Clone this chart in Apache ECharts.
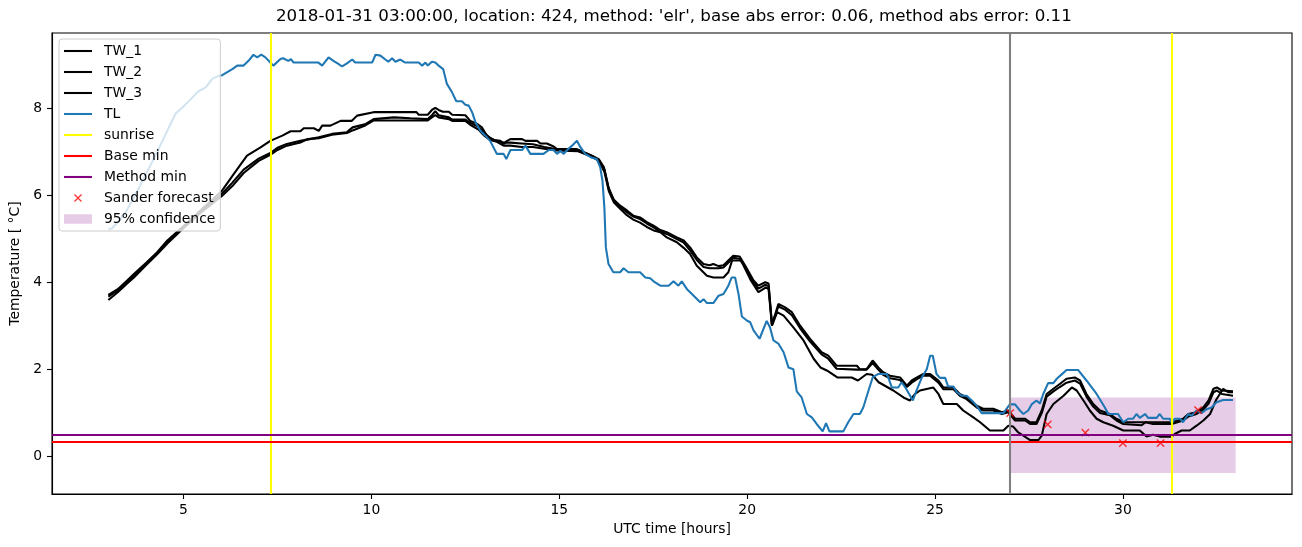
<!DOCTYPE html>
<html>
<head>
<meta charset="utf-8">
<script src="https://cdn.jsdelivr.net/npm/echarts@6/dist/echarts.min.js"></script>
<style>html,body{margin:0;padding:0;background:#fff}#c{width:1302px;height:547px}</style>
</head>
<body>
<div id="c"></div>
<script>
const titleText = "2018-01-31 03:00:00, location: 424, method: 'elr', base abs error: 0.06, method abs error: 0.11";
const xTicks = [5, 10, 15, 20, 25, 30];
const yTicks = [0, 2, 4, 6, 8];
const xRange = [1.5, 34.5];
const yRange = [-0.86, 9.74];

const tw1 = [[3.0,3.72],[3.25,3.85],[3.5,4.05],[3.68,4.2],[4.0,4.45],[4.3,4.7],[4.57,4.97],[5.01,5.31],[5.45,5.66],[6.03,6.12],[6.34,6.5],[6.69,6.92],[7.05,7.11],[7.31,7.26],[7.63,7.38],[7.85,7.48],[8.11,7.48],[8.2,7.55],[8.47,7.55],[8.6,7.49],[8.69,7.61],[8.91,7.61],[9.18,7.72],[9.48,7.72],[9.62,7.84],[10.06,7.92],[11.2,7.92],[11.26,7.86],[11.5,7.86],[11.61,7.97],[11.7,8.02],[11.79,7.97],[11.9,7.93],[12.06,7.93],[12.15,7.86],[12.5,7.85],[12.63,7.72],[12.8,7.66],[12.94,7.57],[13.07,7.38],[13.25,7.28],[13.43,7.26],[13.52,7.19],[13.61,7.26],[13.7,7.3],[14.01,7.3],[14.1,7.26],[14.41,7.26],[14.5,7.2],[14.67,7.2],[14.85,7.13],[14.94,7.07],[15.47,7.07],[15.65,7.0],[15.87,6.92],[16.05,6.84],[16.19,6.65],[16.31,6.19],[16.44,5.92],[16.62,5.77],[16.8,5.66],[16.97,5.54],[17.15,5.5],[17.33,5.39],[17.51,5.31],[17.69,5.21],[17.86,5.16],[18.13,5.04],[18.31,4.97],[18.48,4.81],[18.66,4.58],[18.84,4.43],[19.0,4.4],[19.1,4.43],[19.24,4.38],[19.37,4.4],[19.63,4.62],[19.8,4.6],[19.95,4.39],[20.17,4.05],[20.3,3.93],[20.48,4.01],[20.57,3.98],[20.66,3.02],[20.83,3.51],[21.01,3.43],[21.19,3.32],[21.41,3.01],[21.67,2.71],[21.98,2.4],[22.16,2.32],[22.38,2.09],[22.92,2.09],[23.0,2.01],[23.18,2.01],[23.34,2.21],[23.49,2.05],[23.62,1.94],[23.8,1.86],[24.07,1.82],[24.25,1.63],[24.38,1.75],[24.52,1.82],[24.69,1.9],[24.87,1.9],[25.09,1.75],[25.22,1.59],[25.49,1.59],[25.66,1.44],[25.84,1.36],[26.11,1.17],[26.28,1.1],[26.55,1.1],[26.78,1.02],[26.95,1.06],[27.13,0.87],[27.4,0.87],[27.53,0.79],[27.7,0.79],[27.84,1.06],[27.97,1.44],[28.15,1.56],[28.32,1.67],[28.5,1.79],[28.72,1.82],[28.86,1.75],[29.03,1.44],[29.21,1.21],[29.39,1.06],[29.52,1.02],[29.65,0.98],[29.83,0.87],[30.01,0.79],[31.3,0.79],[31.47,0.83],[31.6,0.87],[31.74,0.98],[31.96,1.02],[32.14,1.13],[32.28,1.29],[32.41,1.56],[32.5,1.59],[32.63,1.52],[32.93,1.5]];

const tw2 = [[3.0,3.68],[3.25,3.82],[3.5,4.02],[3.68,4.16],[4.0,4.42],[4.3,4.68],[4.57,4.94],[5.01,5.28],[5.45,5.63],[6.03,6.05],[6.3,6.3],[6.6,6.6],[7.0,6.85],[7.31,6.98],[7.5,7.1],[7.75,7.19],[8.11,7.26],[8.6,7.34],[8.95,7.42],[9.35,7.46],[9.5,7.57],[9.85,7.65],[10.06,7.76],[10.6,7.8],[11.04,7.78],[11.5,7.76],[11.61,7.85],[11.7,7.94],[11.79,7.85],[12.06,7.8],[12.15,7.75],[12.5,7.75],[12.63,7.68],[12.85,7.58],[13.0,7.45],[13.16,7.32],[13.34,7.26],[13.52,7.22],[13.7,7.22],[14.0,7.2],[14.3,7.18],[14.6,7.12],[14.9,7.07],[15.5,7.05],[15.7,6.98],[15.9,6.9],[16.05,6.82],[16.2,6.6],[16.32,6.15],[16.45,5.9],[16.62,5.74],[16.8,5.62],[16.97,5.52],[17.15,5.46],[17.33,5.36],[17.51,5.27],[17.69,5.17],[17.86,5.12],[18.13,5.0],[18.31,4.92],[18.48,4.74],[18.66,4.52],[18.84,4.36],[19.0,4.33],[19.24,4.33],[19.37,4.35],[19.63,4.57],[19.8,4.55],[19.95,4.33],[20.17,4.0],[20.3,3.86],[20.48,3.95],[20.57,3.92],[20.66,3.05],[20.83,3.45],[21.01,3.38],[21.19,3.25],[21.41,2.95],[21.67,2.65],[21.98,2.35],[22.16,2.25],[22.38,2.02],[22.92,2.0],[23.18,2.0],[23.34,2.15],[23.49,2.0],[23.62,1.88],[23.8,1.8],[24.07,1.76],[24.25,1.6],[24.38,1.7],[24.52,1.78],[24.69,1.86],[24.87,1.86],[25.09,1.7],[25.22,1.55],[25.49,1.55],[25.66,1.4],[25.84,1.32],[26.11,1.13],[26.28,1.06],[26.55,1.06],[26.78,0.98],[26.95,1.02],[27.13,0.83],[27.4,0.83],[27.53,0.75],[27.7,0.75],[27.84,1.0],[27.97,1.38],[28.15,1.5],[28.32,1.6],[28.5,1.7],[28.72,1.75],[28.86,1.68],[29.03,1.38],[29.21,1.15],[29.39,1.0],[29.65,0.95],[29.83,0.83],[30.01,0.75],[30.5,0.72],[30.6,0.79],[30.8,0.75],[31.3,0.75],[31.6,0.83],[31.74,0.92],[31.96,0.98],[32.14,1.08],[32.28,1.22],[32.41,1.48],[32.5,1.52],[32.63,1.44],[32.93,1.4]];

const tw3 = [[3.0,3.6],[3.25,3.78],[3.5,3.98],[3.68,4.12],[4.0,4.4],[4.3,4.65],[4.57,4.9],[5.01,5.26],[5.45,5.6],[6.03,6.0],[6.3,6.22],[6.6,6.52],[7.0,6.8],[7.31,6.94],[7.5,7.05],[7.75,7.15],[8.11,7.22],[8.3,7.3],[8.6,7.32],[8.95,7.4],[9.35,7.44],[9.5,7.5],[9.85,7.62],[10.06,7.73],[11.5,7.73],[11.61,7.8],[11.7,7.85],[11.79,7.8],[12.06,7.76],[12.15,7.72],[12.5,7.72],[12.63,7.63],[12.85,7.52],[13.0,7.38],[13.16,7.28],[13.34,7.24],[13.52,7.15],[13.7,7.15],[14.0,7.12],[14.3,7.12],[14.6,7.08],[14.9,7.04],[15.5,7.02],[15.7,6.95],[15.9,6.88],[16.05,6.8],[16.2,6.55],[16.32,6.1],[16.45,5.85],[16.62,5.7],[16.8,5.55],[16.97,5.45],[17.15,5.38],[17.33,5.28],[17.51,5.2],[17.69,5.16],[17.86,5.04],[18.13,4.93],[18.31,4.8],[18.48,4.66],[18.66,4.39],[18.93,4.16],[19.1,4.12],[19.37,4.12],[19.5,4.24],[19.6,4.51],[19.85,4.51],[19.95,4.31],[20.1,4.05],[20.3,3.78],[20.5,3.89],[20.57,3.85],[20.66,3.01],[20.8,3.32],[20.97,3.24],[21.23,2.97],[21.5,2.67],[21.77,2.25],[21.95,2.05],[22.12,1.98],[22.4,1.82],[22.78,1.82],[22.95,1.75],[23.18,1.9],[23.33,1.88],[23.5,1.71],[23.89,1.52],[24.16,1.36],[24.33,1.29],[24.47,1.44],[24.6,1.52],[24.95,1.59],[25.09,1.44],[25.22,1.21],[25.58,1.21],[25.75,1.06],[26.02,0.9],[26.2,0.79],[26.46,0.6],[26.82,0.6],[26.95,0.71],[27.08,0.69],[27.21,0.56],[27.35,0.48],[27.53,0.38],[27.75,0.38],[27.84,0.48],[27.97,0.98],[28.15,1.21],[28.42,1.4],[28.64,1.59],[28.77,1.52],[28.95,1.29],[29.12,1.06],[29.3,0.87],[29.48,0.79],[29.74,0.71],[30.01,0.6],[30.45,0.6],[30.63,0.46],[30.8,0.5],[30.98,0.46],[31.3,0.46],[31.38,0.52],[31.56,0.6],[31.78,0.6],[31.96,0.71],[32.14,0.83],[32.32,0.98],[32.49,1.32],[32.67,1.56],[32.8,1.48],[32.93,1.48]];

const tl = [[3.0,5.22],[3.1,5.25],[3.29,5.43],[3.45,5.6],[3.82,6.19],[4.0,6.5],[4.18,6.8],[4.44,7.26],[4.6,7.55],[4.79,7.89],[5.0,8.05],[5.24,8.26],[5.4,8.4],[5.59,8.49],[5.77,8.69],[5.95,8.76],[6.03,8.77],[6.3,8.91],[6.43,8.99],[6.6,8.99],[6.73,9.1],[6.86,9.24],[6.96,9.18],[7.07,9.24],[7.18,9.18],[7.31,9.06],[7.39,8.99],[7.58,9.14],[7.65,9.16],[7.79,9.1],[7.86,9.14],[7.93,9.06],[8.59,9.06],[8.69,8.99],[8.86,9.18],[8.99,9.1],[9.12,9.03],[9.22,8.97],[9.35,9.04],[9.49,9.13],[9.57,9.06],[10.02,9.06],[10.11,9.24],[10.24,9.22],[10.37,9.13],[10.45,9.08],[10.55,9.16],[10.64,9.08],[10.77,9.13],[10.9,9.06],[11.26,9.06],[11.35,8.99],[11.44,9.06],[11.5,8.99],[11.61,9.08],[11.7,9.06],[11.79,8.99],[11.91,8.91],[12.01,8.57],[12.15,8.37],[12.26,8.17],[12.41,8.17],[12.5,8.09],[12.59,8.07],[12.68,7.92],[12.77,7.69],[12.9,7.49],[13.03,7.38],[13.16,7.26],[13.34,6.96],[13.52,6.96],[13.59,6.84],[13.7,7.05],[14.01,7.05],[14.1,7.15],[14.23,6.96],[14.58,6.96],[14.72,7.05],[14.85,7.05],[14.94,6.96],[15.03,7.03],[15.12,6.96],[15.21,7.05],[15.34,7.15],[15.47,7.26],[15.56,7.12],[15.69,6.96],[15.87,6.87],[16.0,6.84],[16.09,6.65],[16.15,6.34],[16.2,5.73],[16.24,4.81],[16.31,4.43],[16.44,4.24],[16.62,4.24],[16.71,4.33],[16.84,4.24],[17.15,4.24],[17.29,4.12],[17.42,4.1],[17.51,4.03],[17.69,3.93],[17.91,3.93],[18.04,4.03],[18.17,3.93],[18.26,4.03],[18.4,3.85],[18.53,3.74],[18.75,3.55],[18.84,3.62],[18.93,3.53],[19.1,3.53],[19.24,3.7],[19.37,3.74],[19.5,3.93],[19.59,4.12],[19.68,4.12],[19.77,3.74],[19.86,3.22],[19.99,3.13],[20.08,3.09],[20.17,2.9],[20.33,2.71],[20.52,3.12],[20.61,2.97],[20.7,2.67],[20.83,2.6],[20.97,2.4],[21.1,2.05],[21.23,2.01],[21.32,1.5],[21.45,1.36],[21.59,0.98],[21.72,0.9],[21.85,0.75],[22.01,0.58],[22.1,0.77],[22.19,0.58],[22.56,0.58],[22.69,0.79],[22.83,0.98],[23.0,0.98],[23.09,1.13],[23.23,1.52],[23.34,1.82],[23.49,1.9],[23.72,1.9],[23.85,1.59],[24.02,1.59],[24.11,1.71],[24.23,1.56],[24.41,1.29],[24.49,1.48],[24.65,1.82],[24.78,2.01],[24.87,2.32],[24.94,2.32],[25.04,1.9],[25.13,1.81],[25.27,1.81],[25.35,1.61],[25.49,1.61],[25.58,1.48],[25.71,1.4],[25.84,1.4],[25.98,1.29],[26.11,1.17],[26.24,1.0],[26.82,1.0],[26.99,1.2],[27.13,1.2],[27.26,1.06],[27.35,0.98],[27.48,1.06],[27.57,1.2],[27.7,1.29],[27.79,1.22],[27.88,1.44],[28.01,1.69],[28.15,1.69],[28.24,1.79],[28.37,1.89],[28.5,1.99],[28.81,1.99],[29.03,1.75],[29.3,1.44],[29.52,1.13],[29.61,0.98],[29.87,0.98],[30.01,0.79],[30.14,0.87],[30.27,0.87],[30.36,0.98],[30.45,0.89],[30.59,0.98],[30.67,0.89],[30.9,0.89],[30.98,0.98],[31.07,0.87],[31.25,0.87],[31.3,0.77],[31.38,0.87],[31.52,0.87],[31.6,0.79],[31.74,0.98],[31.83,0.94],[31.96,1.06],[32.09,1.0],[32.23,1.09],[32.36,1.13],[32.49,1.25],[32.67,1.3],[32.93,1.3]];

const sander = [[27,1.0],[28,0.74],[29,0.55],[30,0.31],[31,0.31],[32,1.07]];
const sunriseHours = [7.31, 31.3];
const forecastStart = [27];
const baseMin = [0.34];
const methodMin = [0.5];
const confidence = [[27, -0.38, 33, 1.36]];

const FONT = 'DejaVu Sans';
const LW = 2.08;
const LINE_ICON = 'path://M0,0 M35,10 M0,3.96 L28,3.96 L28,6.04 L0,6.04 Z';
const X_ICON = 'path://M0,0 M35,10 M10,1.9 L10.9,1 L14,4.1 L17.1,1 L18,1.9 L14.9,5 L18,8.1 L17.1,9 L14,5.9 L10.9,9 L10,8.1 L13.1,5 Z';
const BAND_ICON = 'path://M0,0.15 L28,0.15 L28,9.85 L0,9.85 Z M0,0 M35,10';
const X_SYMBOL = 'path://M0,0.95 L0.95,0 L4,3.05 L7.05,0 L8,0.95 L4.95,4 L8,7.05 L7.05,8 L4,4.95 L0.95,8 L0,7.05 L3.05,4 Z';

function lineSeries(name, data, color) {
  return {name, type:'line', data, symbol:'none', showSymbol:false, lineStyle:{color, width:LW}, itemStyle:{color}, animation:false, silent:true};
}
function markSeries(name, color, markData) {
  return {name, type:'line', data:[], symbol:'none', lineStyle:{color, width:LW}, itemStyle:{color}, animation:false, silent:true,
    markLine:{silent:true, symbol:['none','none'], label:{show:false}, animation:false,
      lineStyle:{color, width:LW, type:'solid'}, emphasis:{disabled:true}, data:markData}};
}

const chart = echarts.init(document.getElementById('c'), null, {renderer:'canvas'});
chart.setOption({
  animation:false,
  textStyle:{fontFamily:FONT},
  title:{text:titleText, left:276, top:8, padding:0, textStyle:{fontFamily:FONT, fontSize:16.7, fontWeight:'normal', color:'#000'}},
  grid:{left:52, top:33, width:1240, height:461, show:true, borderColor:'#000', borderWidth:1.1, backgroundColor:'transparent'},
  legend:{
    orient:'vertical', left:59, top:39, padding:[5,5,5,5], itemGap:7, itemWidth:35, itemHeight:10,
    backgroundColor:'rgba(255,255,255,0.8)', borderColor:'#cccccc', borderWidth:1, borderRadius:3,
    selectedMode:false, itemStyle:{borderWidth:0},
    textStyle:{fontFamily:FONT, fontSize:13.9, lineHeight:14, color:'#000', padding:[0,0,0,0]},
    data:[
      {name:'TW_1', icon:LINE_ICON},{name:'TW_2', icon:LINE_ICON},{name:'TW_3', icon:LINE_ICON},{name:'TL', icon:LINE_ICON},
      {name:'sunrise', icon:LINE_ICON},{name:'Base min', icon:LINE_ICON},{name:'Method min', icon:LINE_ICON},
      {name:'Sander forecast', icon:X_ICON},{name:'95% confidence', icon:BAND_ICON}
    ]
  },
  xAxis:{type:'value', min:xRange[0], max:xRange[1],
    name:'UTC time [hours]', nameLocation:'middle', nameGap:28, nameTextStyle:{fontFamily:FONT, fontSize:13.9, color:'#000'},
    axisLine:{show:true, onZero:false, lineStyle:{color:'#000', width:1.1}},
    axisTick:{show:true, inside:false, length:5, lineStyle:{color:'#000', width:1.1}, customValues:xTicks},
    axisLabel:{show:true, margin:9, fontFamily:FONT, fontSize:13.9, color:'#000', customValues:xTicks},
    splitLine:{show:false}},
  yAxis:{type:'value', min:yRange[0], max:yRange[1],
    name:'Temperature [ °C]', nameLocation:'middle', nameGap:28, nameRotate:90, nameTextStyle:{fontFamily:FONT, fontSize:13.9, color:'#000'},
    axisLine:{show:true, onZero:false, lineStyle:{color:'#000', width:1.1}},
    axisTick:{show:true, inside:false, length:5, lineStyle:{color:'#000', width:1.1}, customValues:yTicks},
    axisLabel:{show:true, margin:10, fontFamily:FONT, fontSize:13.9, color:'#000', customValues:yTicks},
    splitLine:{show:false}},
  series:[
    lineSeries('TW_1', tw1, '#000000'),
    lineSeries('TW_2', tw2, '#000000'),
    lineSeries('TW_3', tw3, '#000000'),
    lineSeries('TL', tl, '#1f77b4'),
    markSeries('sunrise', '#ffff00', sunriseHours.map(v => ({xAxis:v}))),
    markSeries('Base min', '#ff0000', baseMin.map(v => ({yAxis:v}))),
    markSeries('Method min', '#800080', methodMin.map(v => ({yAxis:v}))),
    {name:'Sander forecast', type:'scatter', data:sander, symbol:X_SYMBOL, symbolSize:8.3,
      itemStyle:{color:'#ff0000'}, animation:false, silent:true, z:3},
    {name:'95% confidence', type:'custom', data:confidence, itemStyle:{color:'rgba(128,0,128,0.2)'}, silent:true,
      encode:{x:[0,2], y:[1,3]},
      renderItem:function(params, api){
        const p0 = api.coord([api.value(0), api.value(3)]);
        const p1 = api.coord([api.value(2), api.value(1)]);
        return {type:'rect', shape:{x:p0[0], y:p0[1], width:p1[0]-p0[0], height:p1[1]-p0[1]}, style:{fill:'rgba(128,0,128,0.2)'}};
      }},
    markSeries('forecast start', '#808080', forecastStart.map(v => ({xAxis:v})))
  ]
});
</script>
</body>
</html>
